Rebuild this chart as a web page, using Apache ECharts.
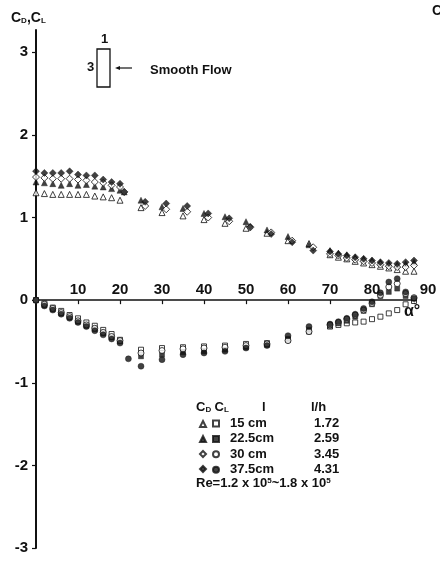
<!DOCTYPE html>
<html>
<head>
<meta charset="utf-8">
<script src="https://cdn.jsdelivr.net/npm/echarts@6/dist/echarts.min.js"></script>
<style>
  html, body { margin: 0; padding: 0; background: #fff; }
  #chart { width: 440px; height: 561px; }
</style>
</head>
<body>
<div id="chart"></div>
<script>
// Angle of attack (degrees) sample groups
const anglesLow = [0, 2, 4, 6, 8, 10, 12, 14, 16, 18, 20];
const anglesLowExt = [0, 2, 4, 6, 8, 10, 12, 14, 16, 18, 20, 21];
const anglesMid = [25, 30, 35, 40, 45, 50, 55, 60, 65];
const anglesMidShift = [26, 31, 36, 41, 46, 51, 56, 61, 66];
const anglesHigh = [70, 72, 74, 76, 78, 80, 82, 84, 86, 88, 90];

// Drag coefficient C_D
const cd15Low = [1.30, 1.29, 1.28, 1.28, 1.28, 1.28, 1.28, 1.26, 1.25, 1.24, 1.21];
const cd15Mid = [1.12, 1.06, 1.02, 0.975, 0.93, 0.87, 0.81, 0.72, 0.685];
const cd15High = [0.55, 0.52, 0.50, 0.47, 0.45, 0.43, 0.41, 0.39, 0.37, 0.35, 0.35];

const cd225Low = [1.43, 1.42, 1.41, 1.39, 1.41, 1.39, 1.40, 1.38, 1.37, 1.35, 1.33, 1.31];
const cd225Mid = [1.21, 1.13, 1.11, 1.05, 1.01, 0.95, 0.85, 0.77, 0.67];
const cd225High = [0.60, 0.57, 0.55, 0.52, 0.50, 0.48, 0.46, 0.44, 0.43, 0.44, 0.46];

const cd30Low = [1.49, 1.48, 1.47, 1.47, 1.47, 1.46, 1.45, 1.43, 1.42, 1.39, 1.37, 1.31];
const cd30Mid = [1.14, 1.10, 1.07, 1.00, 0.955, 0.88, 0.82, 0.72, 0.64];
const cd30High = [0.56, 0.54, 0.51, 0.49, 0.47, 0.45, 0.43, 0.41, 0.40, 0.40, 0.42];

const cd375Low = [1.56, 1.54, 1.54, 1.54, 1.56, 1.52, 1.51, 1.51, 1.46, 1.43, 1.41, 1.31];
const cd375Mid = [1.19, 1.17, 1.14, 1.05, 0.99, 0.89, 0.80, 0.70, 0.60];
const cd375High = [0.59, 0.56, 0.54, 0.52, 0.50, 0.48, 0.46, 0.45, 0.44, 0.46, 0.48];

// Lift coefficient C_L
const anglesLowCl375 = [0, 2, 4, 6, 8, 10, 12, 14, 16, 18, 20, 22];
const cl15Low = [0, -0.04, -0.09, -0.13, -0.18, -0.22, -0.27, -0.31, -0.36, -0.41, -0.48];
const cl15Mid = [-0.60, -0.58, -0.57, -0.56, -0.55, -0.53, -0.52, -0.48, -0.38];
const cl15High = [-0.32, -0.30, -0.28, -0.27, -0.26, -0.23, -0.20, -0.16, -0.12, -0.05, -0.01];

const cl225Low = [0, -0.06, -0.11, -0.16, -0.21, -0.26, -0.31, -0.35, -0.40, -0.45, -0.50];
const cl225Mid = [-0.68, -0.66, -0.63, -0.62, -0.60, -0.57, -0.54, -0.47, -0.36];
const cl225High = [-0.31, -0.28, -0.25, -0.20, -0.13, -0.05, 0.05, 0.10, 0.14, 0.05, 0.02];

const cl30Low = [0, -0.05, -0.10, -0.15, -0.20, -0.25, -0.30, -0.34, -0.39, -0.44, -0.49];
const cl30Mid = [-0.64, -0.61, -0.59, -0.58, -0.57, -0.55, -0.53, -0.49, -0.38];
const cl30High = [-0.30, -0.27, -0.23, -0.18, -0.12, -0.04, 0.06, 0.16, 0.20, 0.08, 0.03];

const cl375Low = [0, -0.07, -0.12, -0.17, -0.22, -0.27, -0.32, -0.37, -0.42, -0.47, -0.52, -0.71];
const cl375Mid = [-0.80, -0.72, -0.66, -0.64, -0.62, -0.58, -0.55, -0.43, -0.32];
const cl375High = [-0.29, -0.26, -0.22, -0.17, -0.10, -0.02, 0.09, 0.22, 0.26, 0.10, 0.02];

// Axis ticks
const xTicks = [10, 20, 30, 40, 50, 60, 70, 80, 90];
const yTicks = [-3, -2, -1, 0, 1, 2, 3];

// Legend table text
const lengthLabels = ['15 cm', '22.5cm', '30 cm', '37.5cm'];
const ratioLabels = ['1.72', '2.59', '3.45', '4.31'];

const FONT = '"Liberation Sans", Arial, sans-serif';
const INK = '#111';

const Y_MIN = -3, Y_MAX = 3.27;
const PLOT_TOP = 30, PLOT_BOTTOM = 13, CHART_H = 561;
// height of the upper half so that its bottom edge sits on C = 0
const upperHeight = (CHART_H - PLOT_TOP - PLOT_BOTTOM) * Y_MAX / (Y_MAX - Y_MIN);

function pairs(groups) {
  const out = [];
  groups.forEach(([xs, ys]) => xs.forEach((x, i) => out.push([x, ys[i]])));
  return out;
}

const openStyle = { color: '#fff', borderColor: INK, borderWidth: 1 };
const filledStyle = { color: INK, borderColor: INK, borderWidth: 0.5 };

const cdNames = ['CD 15', 'CD 22.5', 'CD 30', 'CD 37.5'];
const clNames = ['CL 15', 'CL 22.5', 'CL 30', 'CL 37.5'];

const series = [
  { name: cdNames[0], symbol: 'triangle', itemStyle: openStyle, symbolSize: 6,
    data: pairs([[anglesLow, cd15Low], [anglesMid, cd15Mid], [anglesHigh, cd15High]]) },
  { name: cdNames[1], symbol: 'triangle', itemStyle: filledStyle, symbolSize: 6,
    data: pairs([[anglesLowExt, cd225Low], [anglesMid, cd225Mid], [anglesHigh, cd225High]]) },
  { name: cdNames[2], symbol: 'diamond', itemStyle: openStyle, symbolSize: 7,
    data: pairs([[anglesLowExt, cd30Low], [anglesMidShift, cd30Mid], [anglesHigh, cd30High]]) },
  { name: cdNames[3], symbol: 'diamond', itemStyle: filledStyle, symbolSize: 7,
    data: pairs([[anglesLowExt, cd375Low], [anglesMidShift, cd375Mid], [anglesHigh, cd375High]]) },
  { name: clNames[0], symbol: 'rect', itemStyle: openStyle, symbolSize: 5,
    data: pairs([[anglesLow, cl15Low], [anglesMid, cl15Mid], [anglesHigh, cl15High]]) },
  { name: clNames[1], symbol: 'rect', itemStyle: filledStyle, symbolSize: 5,
    data: pairs([[anglesLow, cl225Low], [anglesMid, cl225Mid], [anglesHigh, cl225High]]) },
  { name: clNames[2], symbol: 'circle', itemStyle: openStyle, symbolSize: 6,
    data: pairs([[anglesLow, cl30Low], [anglesMid, cl30Mid], [anglesHigh, cl30High]]) },
  { name: clNames[3], symbol: 'circle', itemStyle: filledStyle, symbolSize: 6,
    data: pairs([[anglesLowCl375, cl375Low], [anglesMid, cl375Mid], [anglesHigh, cl375High]]) }
].map(s => Object.assign({ type: 'scatter', animation: false, z: 3, xAxisIndex: 0, yAxisIndex: 0 }, s));

const chart = echarts.init(document.getElementById('chart'), null, { renderer: 'canvas' });

const txt = { fontFamily: FONT, color: INK, fontWeight: 'bold' };

chart.setOption({
  backgroundColor: '#fff',
  animation: false,
  title: {
    text: '{c|C}{s|D}{c|,C}{s|L}',
    left: 6, top: 6,
    textStyle: {
      rich: {
        c: Object.assign({}, txt, { fontSize: 14 }),
        s: Object.assign({}, txt, { fontSize: 8, verticalAlign: 'bottom', padding: [6, 0, 0, 0] })
      }
    }
  },
  grid: [
    // full plotting area
    { left: 36, right: 26, top: PLOT_TOP, bottom: PLOT_BOTTOM },
    // upper half, whose bottom edge carries the alpha axis at C = 0
    { left: 36, right: 26, top: PLOT_TOP, height: upperHeight }
  ],
  xAxis: [
    { gridIndex: 0, type: 'value', min: 0, max: 90, interval: 10, show: false },
    {
      gridIndex: 1, type: 'value', min: 0, max: 90, interval: 10, position: 'bottom',
      axisLine: { onZero: false, lineStyle: { color: INK, width: 1.5 } },
      axisTick: { show: true, length: 4, customValues: xTicks, lineStyle: { color: INK, width: 1.2 } },
      axisLabel: {
        inside: true, margin: 3, customValues: xTicks,
        fontFamily: FONT, fontSize: 15, color: INK, fontWeight: 'bold',
        formatter: v => v === 90 ? '{e|90}' : String(v),
        rich: { e: { fontFamily: FONT, fontSize: 15, color: INK, fontWeight: 'bold', padding: [0, 0, 0, 28] } }
      },
      splitLine: { show: false }
    }
  ],
  yAxis: [
    {
      gridIndex: 0, type: 'value', min: Y_MIN, max: Y_MAX, interval: 1,
      axisLine: { show: true, onZero: false, lineStyle: { color: INK, width: 2 } },
      axisTick: { show: true, length: 4, customValues: yTicks, lineStyle: { color: INK, width: 1.2 } },
      axisLabel: {
        margin: 8, customValues: yTicks,
        fontFamily: FONT, fontSize: 15, color: INK, fontWeight: 'bold',
        formatter: v => (v < 0 ? '-' + Math.abs(v) : String(v))
      },
      splitLine: { show: false }
    },
    { gridIndex: 1, type: 'value', min: 0, max: Y_MAX, show: false }
  ],
  legend: [
    {
      data: cdNames, orient: 'vertical', left: 199, top: 420, padding: 0,
      itemWidth: 6, itemHeight: 6, itemGap: 7.0, selectedMode: false,
      formatter: () => '',
      textStyle: { fontSize: 13, lineHeight: 15 }
    },
    {
      data: clNames, orient: 'vertical', left: 212, top: 416, padding: 0,
      itemWidth: 6, itemHeight: 6, itemGap: 0.4, selectedMode: false,
      formatter: name => {
        const i = clNames.indexOf(name);
        return '{a|' + lengthLabels[i] + '}{b|' + ratioLabels[i] + '}';
      },
      textStyle: {
        lineHeight: 15,
        rich: {
          a: Object.assign({}, txt, { fontSize: 13, width: 84, padding: [0, 0, 0, 6] }),
          b: Object.assign({}, txt, { fontSize: 13 })
        }
      }
    }
  ],
  graphic: [
    // inset sketch of the section and flow direction
    { type: 'rect', shape: { x: 97, y: 49, width: 13, height: 38 },
      style: { fill: '#fff', stroke: INK, lineWidth: 1.3 } },
    { type: 'text', left: 101, top: 33,
      style: { text: '1', font: 'bold 13px ' + FONT, fill: INK } },
    { type: 'text', left: 87, top: 61,
      style: { text: '3', font: 'bold 13px ' + FONT, fill: INK } },
    { type: 'line', shape: { x1: 132, y1: 68, x2: 118, y2: 68 },
      style: { stroke: INK, lineWidth: 1.2 } },
    { type: 'polygon', shape: { points: [[115, 68], [120, 66], [120, 70]] },
      style: { fill: INK } },
    { type: 'text', left: 150, top: 64,
      style: { text: 'Smooth Flow', font: 'bold 13px ' + FONT, fill: INK } },
    // alpha axis name
    { type: 'text', left: 404, top: 304,
      style: { text: 'α°', font: 'bold 16px ' + FONT, fill: INK } },
    // legend table header
    { type: 'text', left: 196, top: 401,
      style: {
        text: '{c|C}{s|D} {c|C}{s|L}',
        rich: {
          c: { fontFamily: FONT, fontSize: 13, fontWeight: 'bold', fill: INK },
          s: { fontFamily: FONT, fontSize: 8, fontWeight: 'bold', fill: INK, verticalAlign: 'bottom', padding: [5, 0, 0, 0] }
        }
      } },
    { type: 'text', left: 262, top: 401,
      style: { text: 'l', font: 'bold 13px ' + FONT, fill: INK } },
    { type: 'text', left: 311, top: 401,
      style: { text: 'l/h', font: 'bold 13px ' + FONT, fill: INK } },
    { type: 'text', left: 196, top: 477,
      style: {
        text: '{t|Re=1.2 x 10}{u|5}{t|~1.8 x 10}{u|5}',
        rich: {
          t: { fontFamily: FONT, fontSize: 13, fontWeight: 'bold', fill: INK },
          u: { fontFamily: FONT, fontSize: 8, fontWeight: 'bold', fill: INK, verticalAlign: 'top' }
        }
      } },
    // edge of adjacent panel label
    { type: 'text', left: 432, top: 4,
      style: { text: 'C', font: 'bold 14px ' + FONT, fill: INK } }
  ],
  series: series
});
</script>
</body>
</html>
